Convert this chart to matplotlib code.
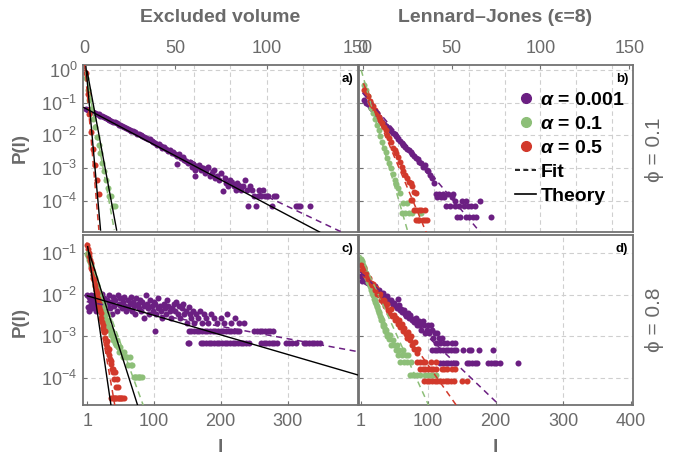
import numpy as np
import matplotlib
matplotlib.use('Agg')
import matplotlib.pyplot as plt
from matplotlib.lines import Line2D
from matplotlib.ticker import NullLocator

plt.rcParams['font.family'] = ['Liberation Sans', 'DejaVu Sans']
plt.rcParams['mathtext.fontset'] = 'custom'
plt.rcParams['mathtext.rm'] = 'Liberation Sans'
plt.rcParams['mathtext.it'] = 'Liberation Sans:italic:bold'
plt.rcParams['mathtext.bf'] = 'Liberation Sans:bold'

PURPLE = '#6B1F82'
GREEN = '#8DBF78'
RED = '#D2392B'
FRAME = '#727272'
TXT = '#6A6A6A'

# ---------------- data (l, log10 P(l)) ----------------
# a) excluded volume, phi = 0.1
a_purple_l = list(range(1, 56)) + [51, 56, 57, 58, 59, 60, 61, 61, 62, 63, 64, 65, 66, 67, 68, 69, 70, 71, 72,
                                   73, 74, 75, 76, 77, 78, 79, 80, 81, 82, 83, 84, 85, 86, 87, 88, 89, 90, 91,
                                   92, 93, 94, 95, 96, 97, 98, 99, 100, 101, 103, 104, 105, 116, 117, 118, 124]
a_purple_p = [-1.20, -1.22, -1.25, -1.27, -1.30, -1.31, -1.35, -1.36, -1.40, -1.42, -1.44, -1.47, -1.50, -1.52,
              -1.55, -1.58, -1.60, -1.62, -1.68, -1.67, -1.72, -1.73, -1.78, -1.80, -1.82, -1.86, -1.88, -1.90,
              -1.95, -1.96, -2.00, -2.02, -2.05, -2.08, -2.12, -2.10, -2.18, -2.20, -2.22, -2.28, -2.25, -2.33,
              -2.38, -2.35, -2.42, -2.48, -2.45, -2.55, -2.52, -2.58, -2.62, -2.56, -2.70, -2.66, -2.75,
              -2.87, -2.78, -2.85, -2.80, -2.97, -2.90, -3.07, -3.23, -2.97, -2.90, -3.07, -3.00, -3.15, -3.07,
              -2.97, -3.25, -3.15, -3.07, -3.30, -3.25, -3.37, -3.15, -3.70, -3.30, -3.45, -3.55, -3.37, -3.45,
              -3.55, -3.67, -3.45, -3.55, -3.67, -3.55, -3.37, -3.67, -4.15, -3.55, -3.67, -3.85, -4.15, -3.85,
              -3.67, -3.85, -3.67, -3.85, -3.85, -3.85, -4.15, -3.85, -3.85, -4.15, -4.15, -4.15, -4.15]
a_green_l = list(range(1, 18))
a_green_p = [-0.25, -0.60, -0.92, -1.20, -1.50, -1.75, -2.05, -2.30, -2.55, -2.85, -3.10, -3.35, -3.60,
             -3.85, -3.85, -4.15, -4.15]
a_red_l = [1, 2, 3, 4, 5, 6, 7, 8]
a_red_p = [-0.10, -0.75, -1.35, -1.90, -2.40, -2.90, -3.35, -3.80]

# b) Lennard-Jones, phi = 0.1
b_purple_l = list(range(1, 41)) + [41, 42, 43, 44, 45, 46, 47, 48, 49, 50, 51, 52, 52, 53, 54, 55, 56, 57, 58,
                                   58, 59, 60, 61, 62, 63, 64, 66, 72]
b_purple_p = [-0.92, -1.00, -1.05, -1.10, -1.16, -1.22, -1.30, -1.37, -1.45, -1.53, -1.58, -1.64, -1.70, -1.75,
              -1.81, -1.86, -1.92, -1.97, -2.03, -2.10, -2.18, -2.24, -2.29, -2.35, -2.40, -2.45, -2.52, -2.57,
              -2.62, -2.70, -2.72, -2.80, -2.85, -2.95, -2.90, -3.05, -3.10, -3.20, -3.30, -3.45,
              -3.78, -3.87, -3.78, -3.87, -3.78, -3.87, -4.17, -3.78, -4.17, -3.87, -3.78, -4.17, -4.00, -4.48,
              -4.17, -4.48, -4.00, -4.17, -4.48, -4.00, -4.17, -4.48, -4.17, -4.48, -4.17, -4.48, -4.00, -4.48]
b_green_l = list(range(1, 22)) + [22, 23, 24, 25, 26, 28, 33]
b_green_p = [-0.45, -0.62, -0.80, -0.98, -1.15, -1.33, -1.50, -1.68, -1.85, -2.02, -2.20, -2.37, -2.52, -2.70,
             -2.85, -3.00, -3.18, -3.35, -3.48, -3.62, -3.75, -4.38, -4.07, -4.38, -4.07, -4.38, -4.38, -4.38]
b_red_l = list(range(1, 31)) + [27, 28, 29, 30, 32, 33, 35, 30, 31, 32, 34, 35, 36]
b_red_p = [-0.60, -0.70, -0.80, -0.95, -1.05, -1.10, -1.22, -1.32, -1.43, -1.53, -1.63, -1.73, -1.83, -1.98,
           -2.09, -2.19, -2.39, -2.44, -2.55, -2.65, -2.80, -2.95, -3.10, -3.21, -3.31, -3.41, -3.46, -3.56,
           -3.72, -3.77, -3.97, -3.97, -4.27, -4.27, -4.27, -4.27, -4.27, -4.58, -4.58, -4.58, -4.58, -4.58,
           -4.58]

# c) excluded volume, phi = 0.8
c_purple_l = [1, 2, 3, 4, 5, 6, 7, 8, 9, 10, 12, 13, 14, 16, 17, 19, 20, 22, 23, 25, 26, 28, 30, 31, 33, 35, 36,
              38, 40, 41, 43, 45, 47, 48, 50, 52, 54, 55, 57, 59,
              61, 62, 64, 66, 67, 69, 71, 72, 74, 76, 78, 79, 81, 83, 85, 86, 88, 90, 92, 93, 95, 97, 99, 100,
              102, 104, 106, 107, 109, 111, 113, 115, 117, 118, 120, 122, 124, 126, 128, 130, 102, 151,
              132, 134, 136, 138, 140, 142, 144, 146, 148, 150, 152, 154, 156, 158, 160, 163, 166, 169, 172, 175,
              178, 181, 185, 190, 195, 200, 205, 210, 215, 222, 228, 235,
              152, 156, 160, 164, 168, 172, 176, 180, 184, 188, 192, 196, 200, 204, 208, 212, 216, 220, 224, 228,
              250, 254, 258, 262, 266, 270, 274, 278,
              152, 170, 174, 178, 182, 186, 190, 194, 198, 202, 206, 210, 214, 218, 222, 226, 230, 234, 238, 242,
              260, 264, 268, 272, 276, 280, 284, 298, 302, 306, 312, 324, 328, 332, 336, 340, 344, 348]
c_purple_p = [-2.00, -2.30, -2.05, -2.39, -2.13, -2.22, -2.02, -2.32, -2.17, -2.09, -2.27, -2.02, -2.39, -2.13,
              -2.22, -2.06, -2.32, -2.17, -1.99, -2.27, -2.09, -2.39, -2.13, -2.22, -2.02, -2.32, -2.17, -2.47,
              -2.06, -2.27, -2.13, -2.39, -2.02, -2.22, -2.09, -2.32, -2.17, -2.06, -2.27, -2.39,
              -2.13, -2.32, -2.22, -2.06, -2.39, -2.17, -2.27, -2.47, -2.09, -2.22, -2.32, -2.13, -2.39, -2.17,
              -2.27, -2.57, -2.02, -2.22, -2.32, -2.47, -2.13, -2.27, -2.39, -2.17, -2.22, -2.47, -2.32, -2.09,
              -2.27, -2.39, -2.57, -2.22, -2.32, -2.47, -2.13, -2.27, -2.39, -2.57, -2.32, -2.22, -2.87, -3.17,
              -2.39, -2.17, -2.47, -2.27, -2.57, -2.32, -2.22, -2.47, -2.39, -2.69, -2.30, -2.47, -2.57, -2.39,
              -2.69, -2.47, -2.57, -2.39, -2.69, -2.47, -2.57, -2.69, -2.47, -2.57, -2.69, -2.57, -2.69, -2.47,
              -2.69, -2.57, -2.69, -2.69,
              -2.87, -2.87, -2.87, -2.87, -2.87, -2.87, -2.87, -2.87, -2.87, -2.87, -2.87, -2.87, -2.87, -2.87,
              -2.87, -2.87, -2.87, -2.87, -2.87, -2.87, -2.87, -2.87, -2.87, -2.87, -2.87, -2.87, -2.87, -2.87,
              -3.17, -3.17, -3.17, -3.17, -3.17, -3.17, -3.17, -3.17, -3.17, -3.17, -3.17, -3.17, -3.17, -3.17,
              -3.17, -3.17, -3.17, -3.17, -3.17, -3.17, -3.17, -3.17, -3.17, -3.17, -3.17, -3.17, -3.17, -3.17,
              -3.17, -3.17, -3.17, -3.17, -3.17, -3.17, -3.17, -3.17, -3.17, -3.17]
c_green_l = list(range(1, 31)) + [31, 32, 33, 34, 35, 36, 37, 38, 39, 40, 41, 42, 44, 45, 46, 48, 50, 52, 54,
                                  56, 58, 60, 62, 64, 66, 68, 70, 72, 74, 76, 78, 80, 82]
c_green_p = [-1.02, -1.08, -1.12, -1.18, -1.22, -1.28, -1.32, -1.38, -1.45, -1.50, -1.55, -1.60, -1.66, -1.72,
             -1.78, -1.82, -1.90, -1.95, -2.00, -2.08, -2.12, -2.18, -2.25, -2.30, -2.35, -2.42, -2.48, -2.52,
             -2.60, -2.66, -2.70, -2.75, -2.62, -2.85, -2.80, -2.92, -2.98, -2.88, -3.05, -3.10, -3.00, -3.15,
             -3.20, -3.08, -3.26, -3.38, -3.26, -3.38, -3.50, -3.38, -3.50, -3.50, -3.68, -3.50, -3.68, -3.68,
             -3.98, -3.98, -3.98, -3.98, -3.98, -3.98, -3.98]
c_red_l = list(range(1, 25)) + [25, 26, 27, 28, 29, 30, 31, 32, 33, 34, 35, 36, 37, 38, 39, 40, 41, 42, 44, 45,
                                47, 37, 39, 41, 43, 44, 46, 48, 49, 51, 53, 55]
c_red_p = [-0.82, -0.90, -1.00, -1.08, -1.18, -1.25, -1.35, -1.42, -1.52, -1.60, -1.66, -1.75, -1.80, -1.88,
           -1.95, -2.05, -2.10, -2.20, -2.30, -2.38, -2.45, -2.55, -2.65, -2.72, -2.80, -2.90, -2.88, -3.05,
           -3.18, -3.12, -3.26, -3.38, -3.30, -3.45, -3.54, -3.66, -3.60, -3.78, -3.86, -3.78, -4.02, -3.86,
           -4.22, -4.02, -4.22, -4.48, -4.48, -4.48, -4.48, -4.48, -4.48, -4.48, -4.48, -4.48, -4.48, -4.48]

# d) Lennard-Jones, phi = 0.8
d_purple_l = [1, 2, 4, 6, 8, 10, 12, 14, 16, 18, 20, 22, 24, 26, 28, 30, 32, 34, 36, 38, 40, 42, 44, 46, 48, 50,
              52, 54, 56, 57, 58, 60, 62, 64, 66, 68, 70, 72, 74, 76, 78, 80, 82, 84, 86, 88, 90, 92, 94, 96,
              98, 100, 102, 104, 106, 108, 110, 112, 114, 116, 118, 120,
              124, 128, 136, 140,
              106, 110, 114, 118, 122, 126, 130, 134, 138, 142, 152, 160, 164, 176, 196,
              118, 122, 126, 130, 134, 138, 142, 157, 161, 165, 169, 172, 189, 193, 197, 201, 206, 233]
d_purple_p = [-1.55, -1.68, -1.58, -1.62, -1.70, -1.65, -1.72, -1.78, -1.75, -1.82, -1.86, -1.80, -1.90, -1.94,
              -1.88, -1.98, -2.02, -1.96, -2.06, -2.10, -2.04, -2.14, -2.18, -2.12, -2.24, -2.20, -2.28, -2.32,
              -2.10, -2.26, -2.38, -2.34, -2.42, -2.36, -2.46, -2.52, -2.44, -2.56, -2.50, -2.62, -2.58, -2.66,
              -2.56, -2.73, -2.63, -2.73, -2.85, -2.63, -2.73, -2.93, -2.85, -2.73, -2.93, -2.73, -2.85, -3.03,
              -2.93, -3.15, -2.93, -3.03, -3.15, -3.03,
              -3.15, -3.15, -3.15, -3.15,
              -3.33, -3.33, -3.33, -3.33, -3.33, -3.33, -3.33, -3.33, -3.33, -3.33, -3.33, -3.33, -3.33, -3.33,
              -3.33,
              -3.63, -3.63, -3.63, -3.63, -3.63, -3.63, -3.63, -3.63, -3.63, -3.63, -3.63, -3.63, -3.63, -3.63,
              -3.63, -3.63, -3.63, -3.63]
d_green_l = list(range(1, 41)) + [42, 44, 46, 48, 50, 52, 54, 55, 57, 59, 61, 63, 65, 67, 69, 71, 73, 75, 77,
                                  80, 84, 88, 96, 100, 104, 108, 112]
d_green_p = [-1.15, -1.20, -1.22, -1.30, -1.33, -1.38, -1.45, -1.48, -1.55, -1.60, -1.62, -1.70, -1.72, -1.80,
             -1.85, -1.88, -1.95, -2.00, -2.02, -2.10, -2.12, -2.18, -2.22, -2.28, -2.30, -2.38, -2.42, -2.45,
             -2.52, -2.55, -2.62, -2.60, -2.70, -2.75, -2.72, -2.82, -2.88, -2.85, -2.95, -3.00,
             -3.06, -2.98, -3.22, -3.10, -3.22, -3.34, -3.22, -3.46, -3.34, -3.62, -3.46, -3.34, -3.62, -3.46,
             -3.62, -3.46, -3.94, -3.62, -3.94, -3.94, -3.94, -3.94, -3.94, -3.94, -3.94, -3.94, -3.94]
d_red_l = [1, 3, 5, 7, 9, 11, 13, 15, 17, 19, 21, 23, 25, 27, 29, 31, 33, 35, 37, 39, 41, 43, 45, 47, 49, 51,
           53, 55, 57, 59, 61, 63, 65, 67, 69, 71, 73, 75, 77, 79, 81, 83, 85,
           84, 88, 92, 96, 104, 112,
           88, 92, 96, 100, 104, 108, 112, 120, 124, 128, 136, 140,
           94, 98, 102, 106, 110, 114, 118, 122, 126, 130, 134, 138, 150, 158]
d_red_p = [-1.28, -1.40, -1.36, -1.52, -1.50, -1.62, -1.60, -1.72, -1.78, -1.74, -1.88, -1.85, -1.98, -2.02,
           -1.98, -2.12, -2.18, -2.12, -2.28, -2.22, -2.38, -2.45, -2.35, -2.52, -2.48, -2.62, -2.55, -2.70,
           -2.62, -2.78, -2.70, -2.88, -2.80, -2.95, -3.05, -2.90, -3.10, -3.00, -3.20, -3.30, -3.14, -3.40,
           -3.30,
           -3.61, -3.61, -3.61, -3.61, -3.61, -3.61,
           -3.78, -3.78, -3.78, -3.78, -3.78, -3.78, -3.78, -3.78, -3.78, -3.78, -3.78, -3.78,
           -4.08, -4.08, -4.08, -4.08, -4.08, -4.08, -4.08, -4.08, -4.08, -4.08, -4.08, -4.08, -4.08, -4.08]

# straight fit / theory lines: end points (l, log10 P)
a_fit = {'purple': ([0, 141], [-1.22, -4.95]), 'green': ([1, 16.6], [-0.05, -4.89]),
         'red': ([0.5, 8.2], [0.15, -4.89])}
a_theory = [([0, 129], [-1.15, -4.95]), ([1.8, 17.9], [-0.05, -4.89]), ([1.1, 9.1], [0.10, -4.89])]
b_fit = {'purple': ([0, 66], [-0.70, -4.95]), 'green': ([-0.8, 25.7], [0.0, -4.99]),
         'red': ([0.5, 36], [-0.41, -4.99])}
c_fit = {'purple': ([0, 405], [-2.17, -3.37]), 'green': ([0, 84.5], [-0.95, -4.66]),
         'red': ([0, 42], [-0.75, -4.66])}
c_theory = [([1, 405], [-2.03, -3.93]), ([3.9, 76.1], [-1.0, -4.66]), ([1.5, 36.3], [-0.85, -4.66])]
d_fit = {'purple': ([0, 206], [-1.46, -4.66]), 'green': ([0, 101], [-1.05, -4.66]),
         'red': ([0, 142], [-1.38, -4.66])}

colors = {'purple': PURPLE, 'green': GREEN, 'red': RED}

W, H = 678, 458
fig = plt.figure(figsize=(W / 100, H / 100), dpi=100)


def box(l, t, r, b):
    return [l / W, 1 - b / H, (r - l) / W, (b - t) / H]


ax_a = fig.add_axes(box(83, 65, 358, 232))
ax_b = fig.add_axes(box(359, 65, 633, 232))
ax_c = fig.add_axes(box(83, 235, 358, 405))
ax_d = fig.add_axes(box(359, 235, 633, 405))


def setup(ax, xlim, ylim, xticks, xgrid, ydec, top, left, tag):
    ax.set_yscale('log')
    ax.set_xlim(*xlim)
    ax.set_ylim(10.0 ** ylim[0], 10.0 ** ylim[1])
    for g in xgrid:
        ax.axvline(g, color='#cfcfcf', lw=0.8, dashes=(4, 3), zorder=0)
    for d in ydec:
        ax.axhline(10.0 ** d, color='#cfcfcf', lw=0.8, dashes=(4, 3), zorder=0)
    ax.set_xticks(xticks)
    ax.set_xticklabels([str(t) for t in xticks])
    ax.set_yticks([10.0 ** d for d in ydec])
    ax.yaxis.set_minor_locator(NullLocator())
    if top:
        ax.tick_params(axis='x', top=True, bottom=False, labeltop=True, labelbottom=False)
    else:
        ax.tick_params(axis='x', top=False, bottom=True, labeltop=False, labelbottom=True)
    ax.tick_params(axis='both', direction='in', length=3, width=0.8, color=FRAME,
                   labelcolor=TXT, labelsize=13, pad=6)
    ax.tick_params(axis='y', left=True, right=False, labelleft=left, pad=4)
    for s in ax.spines.values():
        s.set_color(FRAME)
        s.set_linewidth(1.3)
    ax.text(0.982, 0.952, tag, transform=ax.transAxes, ha='right', va='top',
            fontsize=9.5, fontweight='bold', color='black')


def draw(ax, series, fits, theory):
    for name, l, p in series:
        ax.scatter(l, 10.0 ** np.array(p), s=19, color=colors[name], linewidths=0, zorder=2)
    for name, (lx, lp) in fits.items():
        ax.plot(lx, 10.0 ** np.array(lp), color=colors[name], lw=1.1, dashes=(4, 3), zorder=3)
    for lx, lp in theory:
        ax.plot(lx, 10.0 ** np.array(lp), color='black', lw=1.0, zorder=4)


setup(ax_a, (-0.5, 150), (-4.95, 0.15), [0, 50, 100, 150], range(20, 150, 20),
      [0, -1, -2, -3, -4], True, True, 'a)')
setup(ax_b, (-2, 152), (-4.95, 0.15), [0, 50, 100, 150], range(20, 150, 20),
      [0, -1, -2, -3, -4], True, False, 'b)')
setup(ax_c, (-5.5, 405), (-4.65, -0.57), [1, 100, 200, 300], [100, 200, 300],
      [-1, -2, -3, -4], False, True, 'c)')
setup(ax_d, (-2, 403), (-4.65, -0.57), [1, 100, 200, 300, 400], [100, 200, 300],
      [-1, -2, -3, -4], False, False, 'd)')

draw(ax_a, [('purple', a_purple_l, a_purple_p), ('green', a_green_l, a_green_p),
            ('red', a_red_l, a_red_p)], a_fit, a_theory)
draw(ax_b, [('purple', b_purple_l, b_purple_p), ('green', b_green_l, b_green_p),
            ('red', b_red_l, b_red_p)], b_fit, [])
draw(ax_c, [('purple', c_purple_l, c_purple_p), ('green', c_green_l, c_green_p),
            ('red', c_red_l, c_red_p)], c_fit, c_theory)
draw(ax_d, [('purple', d_purple_l, d_purple_p), ('green', d_green_l, d_green_p),
            ('red', d_red_l, d_red_p)], d_fit, [])

# legend
handles = [Line2D([], [], ls='none', marker='o', ms=7, color=PURPLE),
           Line2D([], [], ls='none', marker='o', ms=7, color=GREEN),
           Line2D([], [], ls='none', marker='o', ms=7, color=RED),
           Line2D([], [], color='black', lw=1.2, dashes=(3, 2)),
           Line2D([], [], color='black', lw=1.2)]
labels = ['$\\alpha$ = 0.001', '$\\alpha$ = 0.1', '$\\alpha$ = 0.5', 'Fit', 'Theory']
fig.legend(handles, labels, loc='upper left', bbox_to_anchor=(515 / W, 1 - 91 / H),
           frameon=False, borderpad=0, borderaxespad=0, handlelength=1.1, handletextpad=0.2,
           labelspacing=0.33, prop={'weight': 'bold', 'size': 14})

# titles and axis labels
fig.text(220 / W, 1 - 17 / H, 'Excluded volume', ha='center', va='center',
         fontsize=14, fontweight='bold', color=TXT)
fig.text(495 / W, 1 - 17 / H, 'Lennard\u2013Jones (\u03f5=8)', ha='center', va='center',
         fontsize=14, fontweight='bold', color=TXT)
fig.text(20 / W, 1 - 148 / H, 'P(l)', rotation=90, ha='center', va='center',
         fontsize=13.5, fontweight='bold', color=TXT)
fig.text(20 / W, 1 - 322 / H, 'P(l)', rotation=90, ha='center', va='center',
         fontsize=13.5, fontweight='bold', color=TXT)
fig.text(220 / W, 1 - 448 / H, 'l', ha='center', va='center',
         fontsize=14, fontweight='bold', color=TXT)
fig.text(495 / W, 1 - 448 / H, 'l', ha='center', va='center',
         fontsize=14, fontweight='bold', color=TXT)
fig.text(655 / W, 1 - 150 / H, '\u03d5 = 0.1', rotation=90, ha='center', va='center',
         fontsize=15, color=TXT)
fig.text(655 / W, 1 - 320 / H, '\u03d5 = 0.8', rotation=90, ha='center', va='center',
         fontsize=15, color=TXT)

fig.savefig('out.png', dpi=100)
